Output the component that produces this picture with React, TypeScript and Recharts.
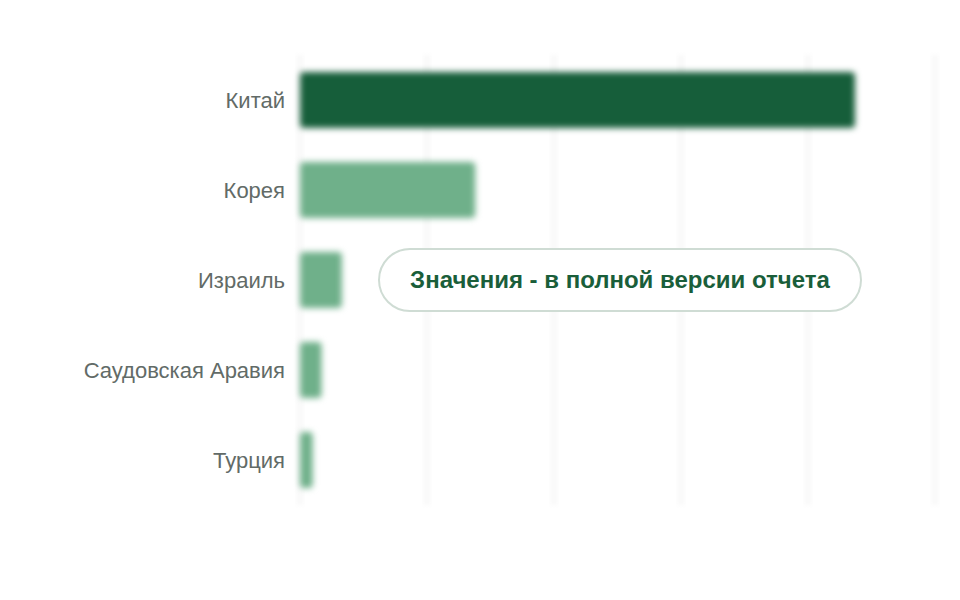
import { BarChart, Bar, XAxis, YAxis, CartesianGrid, Cell } from 'recharts';

const countries = ['Китай', 'Корея', 'Израиль', 'Саудовская Аравия', 'Турция'];
const shares = [87.4, 27.6, 6.6, 3.4, 2.0];
const xTicks = [0, 20, 40, 60, 80, 100];
const barColors = ['#165e3a', '#6fb08a', '#6fb08a', '#6fb08a', '#6fb08a'];

const rows = countries.map((name, i) => ({ name, value: shares[i] }));

const FONT = '"Liberation Sans", Arial, sans-serif';

// blurred bar with rounded corners
// eslint-disable-next-line @typescript-eslint/no-explicit-any
const BlurBar = (props: any) => {
    const { x, y, width, height, fill } = props;
    if (!width || width <= 0) return null;
    return (
        <rect
            x={x}
            y={y}
            width={width}
            height={height}
            rx={4}
            ry={4}
            fill={fill}
            style={{ filter: 'blur(3px)' }}
        />
    );
};

const NoTick = () => <g />;

export default function App() {
    return (
        <div style={{ position: 'absolute', left: 0, top: 0, width: 960, height: 600, background: '#fff' }}>
            <BarChart
                width={960}
                height={600}
                data={rows}
                layout="vertical"
                margin={{ top: 55, right: 25, bottom: 65, left: 0 }}
                barCategoryGap={34}
            >
                <CartesianGrid
                    horizontal={false}
                    stroke="#f8f8f8"
                    strokeWidth={5}
                    style={{ filter: 'blur(2px)' }}
                />
                <XAxis
                    type="number"
                    domain={[0, 100]}
                    ticks={xTicks}
                    interval={0}
                    tick={NoTick}
                    axisLine={false}
                    tickLine={false}
                    height={30}
                />
                <YAxis
                    type="category"
                    dataKey="name"
                    width={300}
                    axisLine={false}
                    tickLine={false}
                    tickSize={0}
                    tickMargin={15}
                    tick={{ fill: '#626b67', fontSize: 22, fontFamily: FONT }}
                />
                <Bar dataKey="value" barSize={56} shape={BlurBar} isAnimationActive={false}>
                    {rows.map((r, i) => (
                        <Cell key={r.name} fill={barColors[i]} />
                    ))}
                </Bar>
            </BarChart>
            <div
                style={{
                    position: 'absolute',
                    left: 378,
                    top: 248,
                    width: 484,
                    height: 64,
                    boxSizing: 'border-box',
                    border: '2px solid #cfdcd4',
                    borderRadius: 32,
                    background: '#fff',
                    display: 'flex',
                    alignItems: 'center',
                    justifyContent: 'center',
                    fontFamily: FONT,
                    fontWeight: 'bold',
                    fontSize: 24,
                    color: '#1a5e3a',
                }}
            >
                Значения - в полной версии отчета
            </div>
        </div>
    );
}
